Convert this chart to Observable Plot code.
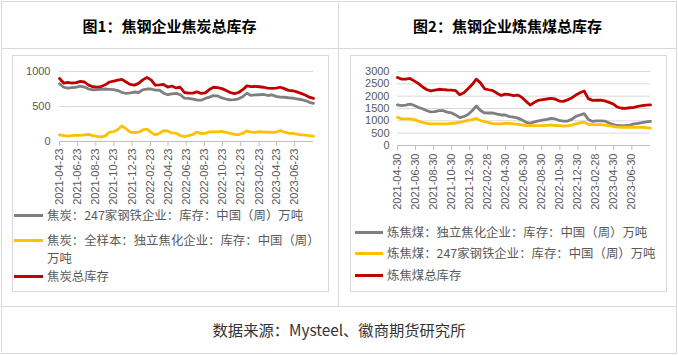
<!DOCTYPE html>
<html><head><meta charset="utf-8">
<script src="https://cdn.jsdelivr.net/npm/d3@7"></script>
<script src="https://cdn.jsdelivr.net/npm/@observablehq/plot@0.6"></script>
<style>
body{margin:0;background:#fff;font-family:"Noto Sans CJK SC","Noto Sans",sans-serif;}
#page{position:relative;width:678px;height:355px;overflow:hidden;background:#fff;}
.ln{position:absolute;background:#d9d9d9;}
.box{position:absolute;border:1px solid #d9d9d9;box-sizing:border-box;}
.title{position:absolute;top:14px;height:24px;line-height:24px;font-weight:bold;font-size:15px;color:#000;text-align:center;}
.sw{position:absolute;height:3px;}
.lt{position:absolute;font-size:12.4px;line-height:13px;height:13px;color:#595959;white-space:nowrap;}
.chart{position:absolute;}
#foot{position:absolute;left:0;width:678px;top:318px;height:22px;line-height:22px;text-align:center;font-size:15.3px;color:#333;}
</style>
</head><body>
<div id="page">
  <div class="ln" style="left:1px;top:1px;width:676px;height:1px"></div>
  <div class="ln" style="left:1px;top:353px;width:676px;height:1px"></div>
  <div class="ln" style="left:1px;top:1px;width:1px;height:353px"></div>
  <div class="ln" style="left:676px;top:1px;width:1px;height:353px"></div>
  <div class="ln" style="left:1px;top:48px;width:676px;height:1px"></div>
  <div class="ln" style="left:1px;top:306px;width:676px;height:1px"></div>
  <div class="ln" style="left:338px;top:1px;width:1px;height:306px"></div>
  <div class="title" style="left:1px;width:337px">图1：焦钢企业焦炭总库存</div>
  <div class="title" style="left:339px;width:337px">图2：焦钢企业炼焦煤总库存</div>
  <div class="box" style="left:12px;top:55px;width:317px;height:237px"></div>
  <div class="box" style="left:350px;top:55px;width:317px;height:237px"></div>
  <div class="chart" id="c1" style="left:0;top:55px"></div>
  <div class="chart" id="c2" style="left:340px;top:55px"></div>
  <div id="leg"></div>
  <div id="foot">数据来源：Mysteel、徽商期货研究所</div>
</div>
<script>
// ---- Chart 1: coke inventory (万吨), biweekly samples ----
const dates1 = ["2021-04-23","2021-05-07","2021-05-21","2021-06-04","2021-06-18","2021-07-02","2021-07-16","2021-07-30","2021-08-13","2021-08-27","2021-09-10","2021-09-24","2021-10-08","2021-10-22","2021-11-05","2021-11-19","2021-12-03","2021-12-17","2021-12-31",
"2022-01-14","2022-01-28","2022-02-11","2022-02-25","2022-03-11","2022-03-25","2022-04-08","2022-04-22","2022-05-06","2022-05-20","2022-06-03","2022-06-17","2022-07-01","2022-07-15","2022-07-29","2022-08-12","2022-08-26","2022-09-09","2022-09-23","2022-10-07","2022-10-21","2022-11-04","2022-11-18","2022-12-02","2022-12-16","2022-12-30",
"2023-01-13","2023-01-27","2023-02-10","2023-02-24","2023-03-10","2023-03-24","2023-04-07","2023-04-21","2023-05-05","2023-05-19","2023-06-02","2023-06-16","2023-06-30","2023-07-14","2023-07-28","2023-08-11","2023-08-25"];
const coke247 = [825,775,762,770,775,790,778,750,737,740,745,750,745,740,728,700,687,695,707,700,738,750,750,735,735,690,668,680,688,668,620,615,605,593,590,615,635,655,650,622,607,595,597,610,640,690,658,665,668,672,657,665,645,635,632,625,620,610,600,585,560,545];
const cokeInd = [95,85,76,83,90,88,95,103,85,73,67,80,135,140,172,222,180,135,126,133,165,178,130,95,118,155,150,122,120,85,70,85,100,135,112,115,138,140,138,145,130,115,103,98,118,150,135,130,140,135,135,130,132,158,135,120,115,106,95,90,85,78];
const cokeTotal = [900,835,845,835,840,860,850,805,782,776,785,810,850,862,878,888,850,815,805,830,880,915,880,805,808,815,778,793,765,775,700,690,690,708,688,695,742,775,770,755,730,700,683,700,740,795,785,787,782,775,763,760,762,775,755,730,725,708,688,665,633,615];
const xTicks1 = ["2021-04-23","2021-06-23","2021-08-23","2021-10-23","2021-12-23","2022-02-23","2022-04-23","2022-06-23","2022-08-23","2022-10-23","2022-12-23","2023-02-23","2023-04-23","2023-06-23"];
const yTicks1 = [0,500,1000];
const names1 = ["焦炭：247家钢铁企业：库存：中国（周）万吨","焦炭：全样本：独立焦化企业：库存：中国（周）","万吨","焦炭总库存"];

// ---- Chart 2: coking coal inventory (万吨), biweekly samples ----
const dates2 = ["2021-04-30","2021-05-14","2021-05-28","2021-06-11","2021-06-25","2021-07-09","2021-07-23","2021-08-06","2021-08-20","2021-09-03","2021-09-17","2021-10-01","2021-10-15","2021-10-29","2021-11-12","2021-11-26","2021-12-10","2021-12-24",
"2022-01-07","2022-01-21","2022-02-04","2022-02-18","2022-03-04","2022-03-18","2022-04-01","2022-04-15","2022-04-29","2022-05-13","2022-05-27","2022-06-10","2022-06-24","2022-07-08","2022-07-22","2022-08-05","2022-08-19","2022-09-02","2022-09-16","2022-09-30","2022-10-14","2022-10-28","2022-11-11","2022-11-25","2022-12-09","2022-12-23",
"2023-01-06","2023-01-20","2023-02-03","2023-02-17","2023-03-03","2023-03-17","2023-03-31","2023-04-14","2023-04-28","2023-05-12","2023-05-26","2023-06-09","2023-06-23","2023-07-07","2023-07-21","2023-08-04","2023-08-18","2023-09-01"];
const coalInd = [1650,1620,1641,1681,1625,1547,1490,1420,1360,1370,1412,1412,1350,1325,1240,1130,1170,1260,1410,1600,1420,1320,1318,1318,1270,1237,1237,1170,1150,1110,1040,940,901,960,1000,1030,1060,1103,1076,1020,985,990,1060,1184,1237,1290,1060,975,1000,1000,990,915,845,810,807,807,830,874,900,930,960,982];
const coal247 = [1140,1076,1076,1076,1050,990,935,901,880,874,874,874,874,900,912,935,975,1020,1050,1100,1009,972,925,890,874,874,895,901,880,860,840,807,807,807,807,807,815,834,810,807,790,795,830,874,915,945,860,847,847,847,830,807,770,745,740,740,740,740,740,735,725,705];
const coalTotal = [2757,2690,2690,2717,2620,2520,2380,2270,2215,2246,2280,2265,2250,2246,2225,2060,2140,2300,2470,2690,2540,2300,2260,2225,2120,2030,2080,2060,2020,2044,1950,1790,1640,1750,1830,1860,1885,1910,1885,1800,1790,1850,1930,2044,2140,2210,1900,1830,1835,1843,1810,1750,1690,1560,1510,1506,1530,1550,1587,1614,1640,1645];
const xTicks2 = ["2021-04-30","2021-06-30","2021-08-30","2021-10-30","2021-12-30","2022-02-28","2022-04-30","2022-06-30","2022-08-30","2022-10-30","2022-12-30","2023-02-28","2023-04-30","2023-06-30"];
const yTicks2 = [0,500,1000,1500,2000,2500,3000];
const names2 = ["炼焦煤：独立焦化企业：库存：中国（周）万吨","炼焦煤：247家钢铁企业：库存：中国（周）万吨","炼焦煤总库存"];

const colors = ["#7f7f7f","#ffc000","#c00000"];

const parse = d3.utcParse("%Y-%m-%d");
const fmt = d3.utcFormat("%Y-%m-%d");
function rows(dates, vals, k){ return dates.map((d,i)=>({date:parse(d), value:vals[i], k})); }

function makeChart(dates, seriesList, xTicks, yTicks, yMax, opts){
  const marks = [
    Plot.gridY(yTicks.filter(v=>v>0), {stroke:"#d9d9d9", strokeOpacity:1}),
    Plot.ruleY([0], {stroke:"#bfbfbf"}),
    Plot.axisY(yTicks, {tickSize:0, tickPadding:opts.yPad, fill:"#595959", label:null, tickFormat:d=>String(d)}),
    Plot.axisX(xTicks.map(parse), {tickRotate:-90, tickFormat:fmt, tickSize:5, tickPadding:opts.xPad, stroke:"#bfbfbf", fill:"#595959", label:null})
  ];
  seriesList.forEach((vals,k)=>{
    marks.push(Plot.line(rows(dates, vals, k), {x:"date", y:"value", stroke:colors[k], strokeWidth:2.8, strokeLinejoin:"round"}));
  });
  return Plot.plot({
    width: opts.width, height: 160,
    marginLeft: opts.ml, marginRight: opts.mr, marginTop: 16, marginBottom: opts.mb,
    style:{fontFamily:"'Liberation Sans', Arial, sans-serif", fontSize:"11px", color:"#595959", background:"transparent", overflow:"visible"},
    x:{type:"utc", domain:[parse(dates[0]), parse(dates[dates.length-1])], axis:null, label:null},
    y:{domain:[0,yMax], axis:null, label:null},
    marks
  });
}

document.getElementById("c1").appendChild(
  makeChart(dates1, [coke247, cokeInd, cokeTotal], xTicks1, yTicks1, 1000, {width:339, ml:59, mr:26, mb:74, yPad:9, xPad:2})
);
document.getElementById("c2").appendChild(
  makeChart(dates2, [coalInd, coal247, coalTotal], xTicks2, yTicks2, 3000, {width:338, ml:57, mr:28, mb:70, yPad:8, xPad:3})
);

// legends
const leg = document.getElementById("leg");
function text(tx, cy, s){
  const t = document.createElement("div");
  t.className = "lt";
  t.style.left = tx+"px"; t.style.top = (cy-6.5)+"px";
  t.textContent = s;
  leg.appendChild(t);
}
function item(x0, x1, tx, cy, color, s){
  const sw = document.createElement("div");
  sw.className = "sw";
  sw.style.left = x0+"px"; sw.style.width = (x1-x0)+"px"; sw.style.top = (cy-1.5)+"px"; sw.style.background = color;
  leg.appendChild(sw);
  text(tx, cy, s);
}
item(14, 43, 47, 215, colors[0], names1[0]);
item(14, 43, 47, 240, colors[1], names1[1]);
text(47, 258, names1[2]);
item(14, 43, 47, 276, colors[2], names1[3]);
item(355, 383, 387, 232, colors[0], names2[0]);
item(355, 383, 387, 253, colors[1], names2[1]);
item(355, 383, 387, 275, colors[2], names2[2]);
</script>
</body></html>
